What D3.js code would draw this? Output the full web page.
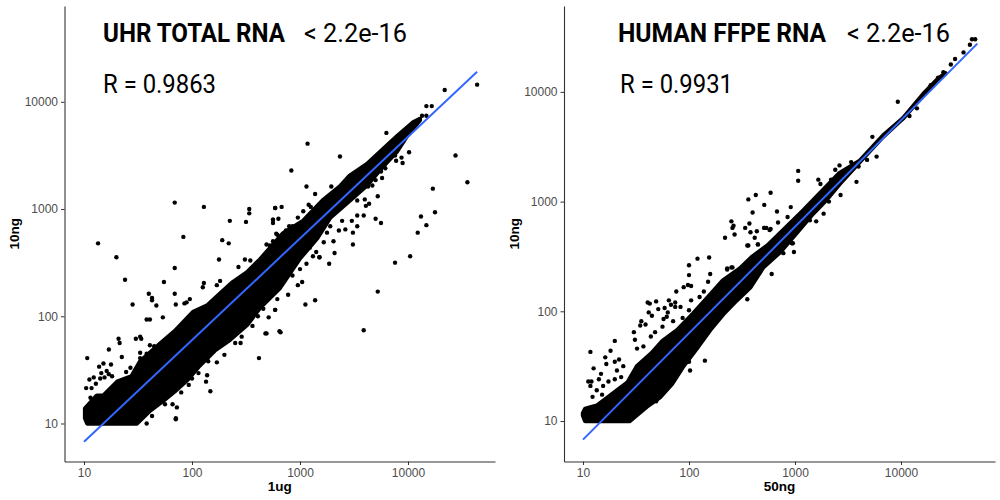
<!DOCTYPE html>
<html><head><meta charset="utf-8">
<script src="https://cdn.jsdelivr.net/npm/d3@7/dist/d3.min.js"></script>
<style>html,body{margin:0;padding:0;background:#fff}svg{display:block}</style>
</head><body><svg id="c" width="1000" height="500"></svg>
<script>
// All pairs below are [log10(x), log10(y)].
// The saturated black cloud cannot be resolved into single genes, so it is kept as its outline.
const tickValues = [10, 100, 1000, 10000];

const uhrCloudOutline = [[1.01,1.05],[1.01,1.14],[1.12,1.26],[1.18,1.26],[1.31,1.39],[1.44,1.44],[1.52,1.58],[1.70,1.74],[1.84,1.86],[2.01,2.04],[2.14,2.10],[2.26,2.21],[2.38,2.32],[2.51,2.41],[2.63,2.53],[2.84,2.77],[3.03,2.89],[3.21,3.08],[3.37,3.21],[3.46,3.31],[3.62,3.42],[3.77,3.56],[3.90,3.68],[4.05,3.81],[4.11,3.84],[4.11,3.83],[3.99,3.68],[3.90,3.54],[3.77,3.40],[3.62,3.22],[3.46,3.08],[3.28,2.92],[3.16,2.73],[3.00,2.54],[2.81,2.26],[2.63,2.08],[2.51,1.92],[2.35,1.78],[2.21,1.68],[2.07,1.54],[1.96,1.41],[1.84,1.30],[1.73,1.21],[1.61,1.12],[1.49,1.00],[1.03,1.00]];
const uhrPoints = [[1.13,2.68],[1.30,2.55],[1.38,2.34],[1.84,2.45],[1.74,2.32],[1.60,2.21],[1.63,2.17],[1.63,2.15],[1.45,2.11],[1.67,2.10],[1.84,2.21],[1.85,2.11],[1.93,2.12],[1.95,2.13],[1.98,2.16],[2.11,2.31],[2.10,2.27],[2.25,2.53],[2.49,2.53],[2.54,2.52],[2.43,2.46],[2.26,2.33],[2.23,2.29],[1.58,1.97],[1.61,1.97],[1.73,1.99],[1.32,1.79],[1.33,1.75],[1.48,1.79],[1.52,1.81],[1.53,1.79],[1.23,1.69],[1.35,1.62],[1.03,1.61],[1.14,1.53],[1.18,1.56],[1.25,1.55],[1.39,1.48],[1.43,1.52],[1.21,1.49],[1.23,1.46],[1.16,1.47],[1.19,1.43],[1.26,1.44],[1.05,1.41],[1.09,1.43],[1.02,1.33],[1.07,1.33],[1.11,1.37],[1.15,1.42],[1.06,1.24],[1.58,1.65],[1.61,1.73],[1.65,1.72],[1.52,1.66],[1.52,1.61],[2.62,1.61],[2.68,1.84],[2.77,2.06],[2.71,1.99],[2.81,1.86],[2.66,2.07],[2.56,1.91],[2.61,2.00],[2.46,1.81],[2.40,1.75],[2.45,1.75],[2.30,1.64],[2.23,1.57],[2.15,1.58],[2.13,1.39],[2.14,1.45],[2.17,1.30],[2.06,1.47],[2.00,1.42],[1.97,1.36],[1.90,1.29],[1.86,1.15],[1.82,1.18],[1.85,1.05],[1.85,1.04],[1.75,1.18],[1.58,1.00],[1.63,1.07],[4.64,4.16],[4.34,4.11],[4.17,3.96],[4.22,3.96],[4.13,3.87],[4.17,3.87],[4.44,3.50],[4.55,3.25],[4.23,3.19],[4.25,2.97],[4.12,2.93],[4.17,2.85],[4.09,2.78],[4.02,2.56],[3.88,2.50],[3.80,3.71],[3.07,3.61],[3.37,3.49],[2.92,3.36],[3.06,3.21],[3.29,3.21],[3.14,3.14],[2.83,3.02],[2.77,3.01],[3.03,2.98],[3.08,3.04],[3.10,3.02],[2.98,2.92],[2.75,2.90],[2.80,2.91],[2.75,2.87],[2.90,2.84],[2.93,2.84],[2.87,2.80],[2.78,2.77],[2.75,2.70],[2.69,2.67],[2.53,3.00],[2.53,2.96],[4.01,3.53],[3.94,3.48],[3.89,3.45],[3.95,3.43],[3.88,3.50],[3.79,3.38],[3.75,3.35],[3.76,3.29],[3.70,3.27],[3.67,3.22],[3.63,3.21],[3.72,3.12],[3.60,3.09],[3.64,3.05],[3.61,3.03],[3.53,3.08],[3.53,2.94],[3.59,2.94],[3.70,2.91],[3.75,2.87],[3.53,2.84],[3.48,2.89],[3.42,2.81],[3.49,2.78],[3.49,2.67],[3.31,2.70],[3.32,2.59],[3.15,2.60],[3.39,2.89],[3.36,2.80],[3.28,2.84],[3.25,2.78],[3.22,2.69],[3.09,2.64],[3.12,2.56],[3.18,2.55],[3.72,2.23],[3.59,1.87],[3.27,2.49],[3.18,2.55],[3.14,2.15],[3.05,2.11],[3.02,2.32],[2.98,2.29],[2.89,2.20],[2.79,2.16],[2.77,2.06],[2.82,1.85],[2.69,1.84],[3.06,2.49],[3.00,2.44],[2.93,2.38],[1.84,3.06],[2.11,3.02],[2.77,3.01],[2.35,2.89],[2.50,2.88],[2.75,2.90],[1.92,2.74],[2.28,2.71],[2.34,2.68],[2.79,2.76],[2.72,2.66]];
const uhrFit = [[1.00,0.83],[4.64,4.28]];

const ffpeCloudOutline = [[1.00,1.07],[1.02,1.11],[1.13,1.14],[1.42,1.35],[1.51,1.50],[1.65,1.62],[1.75,1.73],[1.89,1.83],[2.04,1.98],[2.20,2.15],[2.32,2.28],[2.48,2.39],[2.60,2.50],[2.74,2.60],[2.89,2.74],[3.08,2.92],[3.24,3.08],[3.42,3.26],[3.61,3.37],[3.83,3.60],[4.02,3.76],[4.21,3.98],[4.34,4.11],[4.42,4.17],[4.34,4.11],[4.21,3.97],[4.02,3.76],[3.83,3.59],[3.61,3.36],[3.42,3.16],[3.30,3.02],[3.17,2.89],[3.02,2.72],[2.86,2.54],[2.70,2.40],[2.58,2.22],[2.45,2.10],[2.32,1.97],[2.20,1.83],[2.08,1.67],[1.94,1.49],[1.84,1.34],[1.73,1.22],[1.60,1.13],[1.44,1.00],[1.02,1.00],[1.00,1.05]];
const ffpePoints = [[2.19,2.49],[2.08,2.48],[2.00,2.42],[2.00,2.33],[2.20,2.34],[2.18,2.27],[2.36,2.38],[2.41,2.40],[2.56,2.60],[2.65,2.61],[2.78,2.34],[2.55,2.11],[1.95,2.22],[2.02,2.23],[1.88,2.18],[1.99,2.24],[2.02,2.10],[2.14,2.18],[2.10,2.13],[1.81,2.10],[1.87,2.08],[1.61,2.08],[1.63,2.07],[1.69,2.09],[1.71,2.02],[1.62,1.99],[1.65,1.96],[1.77,2.03],[1.80,1.99],[1.83,2.06],[1.87,2.04],[1.92,2.04],[2.00,2.01],[1.79,1.95],[1.76,1.93],[1.85,1.91],[1.94,1.94],[1.55,1.91],[1.54,1.87],[1.59,1.88],[1.75,1.86],[1.48,1.81],[1.68,1.81],[1.64,1.77],[1.49,1.74],[1.30,1.73],[1.57,1.68],[1.51,1.66],[1.26,1.64],[1.07,1.63],[1.21,1.58],[1.34,1.56],[1.30,1.54],[1.22,1.52],[1.10,1.48],[1.32,1.46],[1.38,1.50],[1.17,1.43],[1.36,1.40],[1.30,1.38],[1.24,1.36],[1.05,1.36],[1.08,1.36],[1.15,1.38],[1.07,1.32],[1.19,1.32],[1.13,1.28],[1.09,1.22],[1.18,1.24],[2.15,1.55],[2.01,1.46],[2.00,1.54],[1.80,1.33],[1.72,1.25],[1.69,1.18],[4.70,4.48],[4.67,4.48],[4.65,4.43],[4.59,4.36],[4.51,4.30],[4.47,4.25],[4.40,4.18],[4.35,4.13],[4.28,4.06],[3.97,3.91],[4.15,3.85],[4.08,3.78],[3.73,3.59],[3.77,3.41],[3.68,3.38],[3.60,3.32],[3.42,3.33],[3.38,3.29],[3.03,3.28],[3.03,3.19],[3.22,3.20],[3.24,3.16],[3.34,3.20],[3.58,3.18],[3.43,3.06],[2.77,3.08],[2.71,2.97],[2.83,2.91],[2.96,2.95],[2.93,2.86],[2.84,2.81],[3.27,2.89],[3.20,2.82],[3.14,2.83],[3.32,3.00],[2.71,2.76],[2.76,2.74],[2.98,2.62],[3.53,3.36],[2.63,3.06],[2.56,3.02],[2.60,2.90],[2.40,2.82],[2.42,2.78],[2.41,2.76],[2.57,2.80],[2.53,2.76],[2.58,2.72],[2.64,2.73],[2.71,2.76],[2.73,2.76],[2.77,2.75],[2.62,2.67],[2.43,2.70],[2.34,2.67],[2.55,2.60],[2.65,2.61],[2.99,2.54],[2.97,2.62],[2.89,2.53],[2.40,2.40],[2.36,2.39]];
const ffpeFit = [[1.00,0.83],[4.72,4.44]];

const panels = [
  {box:{l:64.5,r:495,t:6,b:461.5}, xLim:[0.8194,4.8056], yLim:[0.6455,4.8937], xName:"1ug", yName:"10ng", yNameX:14,
   cloud:uhrCloudOutline, points:uhrPoints, fit:uhrFit,
   labels:[{t:"UHR TOTAL RNA",x:103,y:42,w:182,bold:true},{t:"< 2.2e-16",x:304,y:42,w:103},{t:"R = 0.9863",x:103,y:93,w:113}]},
  {box:{l:564,r:995,t:6,b:461.5}, xLim:[0.8208,4.8868], yLim:[0.6308,4.7830], xName:"50ng", yName:"10ng", yNameX:514,
   cloud:ffpeCloudOutline, points:ffpePoints, fit:ffpeFit,
   labels:[{t:"HUMAN FFPE RNA",x:618,y:42,w:208,bold:true},{t:"< 2.2e-16",x:847,y:42,w:103},{t:"R = 0.9931",x:620,y:93,w:113}]}
];

const svg = d3.select("#c");
const POINT_R = 2.2;
panels.forEach(p => {
  const x = d3.scaleLog().domain(p.xLim.map(v => 10 ** v)).range([p.box.l, p.box.r]);
  const y = d3.scaleLog().domain(p.yLim.map(v => 10 ** v)).range([p.box.b, p.box.t]);
  const g = svg.append("g");
  const line = d3.line().x(d => x(10 ** d[0])).y(d => y(10 ** d[1]));

  g.append("path").attr("d", line(p.cloud) + "Z").attr("fill", "#000").attr("stroke", "#000")
    .attr("stroke-width", POINT_R * 2).attr("stroke-linejoin", "round");
  g.selectAll("circle").data(p.points).join("circle")
    .attr("cx", d => x(10 ** d[0])).attr("cy", d => y(10 ** d[1])).attr("r", POINT_R).attr("fill", "#000");
  g.append("path").attr("d", line(p.fit)).attr("fill", "none").attr("stroke", "#3366FF").attr("stroke-width", 2);

  const fmt = d3.format("d");
  const ax = g.append("g").attr("transform", `translate(0,${p.box.b})`)
    .call(d3.axisBottom(x).tickValues(tickValues).tickFormat(fmt).tickSize(3.5).tickSizeOuter(0));
  const ay = g.append("g").attr("transform", `translate(${p.box.l},0)`)
    .call(d3.axisLeft(y).tickValues(tickValues).tickFormat(fmt).tickSize(3.5).tickSizeOuter(0));
  [ax, ay].forEach(a => {
    a.select(".domain").attr("stroke", "#333").attr("stroke-width", 1.1);
    a.selectAll(".tick line").attr("stroke", "#333").attr("stroke-width", 1);
    a.selectAll("text").attr("fill", "#4D4D4D").attr("font-family", "Liberation Sans, Arial, sans-serif").attr("font-size", 12);
  });
  g.append("text").text(p.xName).attr("x", (p.box.l + p.box.r) / 2).attr("y", 491).attr("text-anchor", "middle")
    .attr("font-family", "Liberation Sans, Arial, sans-serif").attr("font-weight", "bold").attr("font-size", 13.5);
  g.append("text").text(p.yName).attr("transform", `translate(${p.yNameX + 4.5},${(p.box.t + p.box.b) / 2}) rotate(-90)`)
    .attr("text-anchor", "middle").attr("font-family", "Liberation Sans, Arial, sans-serif")
    .attr("font-weight", "bold").attr("font-size", 13.5);
  p.labels.forEach(l => {
    g.append("text").text(l.t).attr("x", l.x).attr("y", l.y).attr("font-family", "Roboto, sans-serif")
      .attr("font-weight", l.bold ? 700 : 400).attr("font-size", 26)
      .attr("textLength", l.w).attr("lengthAdjust", "spacingAndGlyphs");
  });
});
</script></body></html>
